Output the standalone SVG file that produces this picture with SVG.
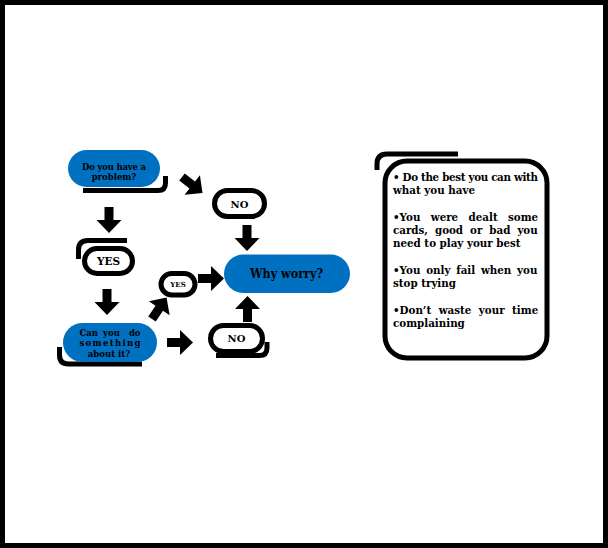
<svg xmlns="http://www.w3.org/2000/svg" xmlns:xlink="http://www.w3.org/1999/xlink" width="608" height="548" viewBox="0 0 608 548">
<style>
.t{font-family:"DejaVu Serif","Liberation Serif",serif;font-weight:bold;fill:#000}
.c{text-anchor:middle}
.e{text-anchor:end}
.blue{fill:#0070C0}
.pill{fill:#fff;stroke:#000;stroke-width:5}
.br{fill:none;stroke:#000;stroke-width:5}
.arr{fill:#000}
</style>
<defs>
<polygon id="arr" points="0,-4.5 13,-4.5 13,-12.5 26,0 13,12.5 13,4.5 0,4.5"/>
</defs>
<rect x="2.5" y="2.5" width="603" height="543" fill="#fff" stroke="#000" stroke-width="5"/>

<g id="connectors" class="arr">
<use xlink:href="#arr" transform="translate(109,207) rotate(90)"/>
<use xlink:href="#arr" transform="translate(182,177) rotate(38)"/>
<use xlink:href="#arr" transform="translate(107,289) rotate(90)"/>
<use xlink:href="#arr" transform="translate(247,225) rotate(90)"/>
<use xlink:href="#arr" transform="translate(198,278.5) rotate(0)"/>
<use xlink:href="#arr" transform="translate(247.5,322) rotate(-90)"/>
<use xlink:href="#arr" transform="translate(167,342.5) rotate(0)"/>
<use xlink:href="#arr" transform="translate(152,319) rotate(-56)"/>
</g>

<g id="problem">
<path class="br" d="M165.5,176 V183 Q165.5,190.5 158,190.5 H83"/>
<rect class="blue" x="68" y="150" width="92" height="37" rx="18.5"/>
<text class="t c" x="114" y="169.5" font-size="8.5" textLength="64" lengthAdjust="spacing">Do you have a</text>
<text class="t c" x="114" y="179.5" font-size="8.5">problem?</text>
</g>

<g id="yes1">
<path class="br" d="M127,240.5 H88 Q78.5,240.5 78.5,250 V259"/>
<rect class="pill" x="84.5" y="248.5" width="48" height="25" rx="12.5"/>
<text class="t c" x="108.5" y="265" font-size="10.5">YES</text>
</g>

<g id="can">
<path class="br" d="M59.5,347 V355 Q59.5,364 68.5,364 H142"/>
<rect class="blue" x="63" y="323" width="94" height="39" rx="19.5"/>
<text class="t" x="79.5" y="335.5" font-size="8.5">Can</text>
<text class="t c" x="111.5" y="335.5" font-size="8.5">you</text>
<text class="t e" x="140.5" y="335.5" font-size="8.5">do</text>
<text class="t c" x="110" y="346" font-size="8.5" textLength="61" lengthAdjust="spacing">something</text>
<text class="t c" x="109" y="356.5" font-size="8.5">about it?</text>
</g>

<g id="no1">
<rect class="pill" x="214.5" y="190.5" width="50" height="26" rx="13"/>
<text class="t c" x="239.5" y="207.5" font-size="10">NO</text>
</g>

<g id="yes2">
<rect class="pill" x="161" y="273.5" width="34" height="21.5" rx="10.75" stroke-width="3.5"/>
<text class="t c" x="178" y="286.5" font-size="7">YES</text>
</g>

<g id="why">
<rect class="blue" x="224" y="254.5" width="126" height="38.5" rx="19.25"/>
<text class="t c" x="286.5" y="278" font-size="12" textLength="73" lengthAdjust="spacingAndGlyphs">Why worry?</text>
</g>

<g id="no2">
<path class="br" d="M267,342 V348 Q267,355.5 259.5,355.5 H216"/>
<rect class="pill" x="210.5" y="325.5" width="52" height="26" rx="13"/>
<text class="t c" x="236.5" y="342" font-size="10">NO</text>
</g>

<g id="advice">
<path class="br" d="M458,154 H387 Q377,154 377,164 V170"/>
<rect x="385" y="161" width="162" height="197" rx="22" fill="#fff" stroke="#000" stroke-width="5"/>
<g class="t" font-size="10.3">
<text x="393" y="181" textLength="145" lengthAdjust="spacing">• Do the best you can with</text>
<text x="393" y="194">what you have</text>
<text x="393" y="221" word-spacing="6.8">•You were dealt some</text>
<text x="393" y="234" word-spacing="3.4">cards, good or bad you</text>
<text x="393" y="247">need to play your best</text>
<text x="393" y="274" word-spacing="2.2">•You only fail when you</text>
<text x="393" y="287">stop trying</text>
<text x="393" y="314" word-spacing="3.9">•Don’t waste your time</text>
<text x="393" y="327">complaining</text>
</g>
</g>
</svg>
